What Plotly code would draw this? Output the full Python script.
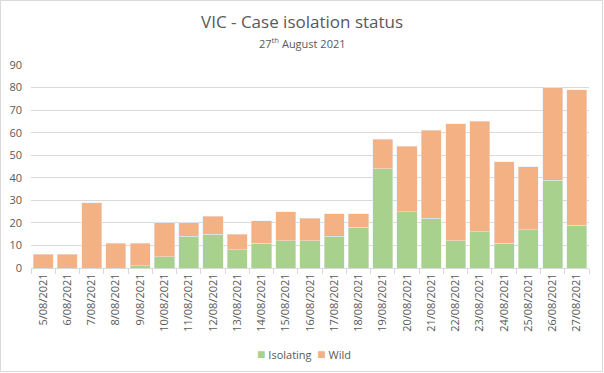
import plotly.graph_objects as go

dates = ["5/08/2021", "6/08/2021", "7/08/2021", "8/08/2021", "9/08/2021", "10/08/2021",
         "11/08/2021", "12/08/2021", "13/08/2021", "14/08/2021", "15/08/2021", "16/08/2021",
         "17/08/2021", "18/08/2021", "19/08/2021", "20/08/2021", "21/08/2021", "22/08/2021",
         "23/08/2021", "24/08/2021", "25/08/2021", "26/08/2021", "27/08/2021"]
isolating = [0, 0, 0, 0, 1, 5, 14, 15, 8, 11, 12, 12, 14, 18, 44, 25, 22, 12, 16, 11, 17, 39, 19]
totals = [6, 6, 29, 11, 11, 20, 20, 23, 15, 21, 25, 22, 24, 24, 57, 54, 61, 64, 65, 47, 45, 80, 79]
wild = [t - i for t, i in zip(totals, isolating)]

W, H = 604, 373
ML, MR, MT, MB = 31, 15, 65, 105
FONT = "Open Sans"
GREY = "#595959"
GREEN = "#a9d18e"
ORANGE = "#f4b183"

fig = go.Figure()
fig.add_trace(go.Bar(x=dates, y=isolating, name="Isolating", marker_color=GREEN))
fig.add_trace(go.Bar(x=dates, y=wild, name="Wild", marker_color=ORANGE))

pw = W - ML - MR
ph = H - MT - MB

def px_y(py):
    return (H - MB - py) / ph

def px_x(px):
    return (px - ML) / pw

legend_text = (f"<span style='color:{GREEN};font-size:14px'>■</span> Isolating  "
               f"<span style='color:{ORANGE};font-size:14px'>■</span> Wild")

fig.update_layout(
    width=W, height=H,
    barmode="stack", bargap=0.17,
    plot_bgcolor="white", paper_bgcolor="white",
    margin=dict(l=ML, r=MR, t=MT, b=MB),
    font=dict(family=FONT, size=11, color=GREY),
    showlegend=False,
    xaxis=dict(type="category", tickangle=-90, ticks="outside", tickson="boundaries",
               ticklen=5, tickcolor="#d9d9d9", showline=True, linecolor="#d9d9d9",
               showgrid=False, tickfont=dict(size=11, color=GREY), automargin=False),
    yaxis=dict(range=[0, 90], dtick=10, showgrid=True, gridcolor="#d9d9d9", gridwidth=1,
               zeroline=False, showline=False, ticks="", tickfont=dict(size=11, color=GREY),
               automargin=False, ticklabelstandoff=8),
    annotations=[
        dict(text="VIC - Case isolation status", xref="paper", yref="paper",
             x=px_x(302), y=px_y(22), yanchor="middle", xanchor="center",
             showarrow=False, font=dict(size=17, color=GREY, family=FONT)),
        dict(text="27<sup>th</sup> August 2021", xref="paper", yref="paper",
             x=px_x(302), y=px_y(43), yanchor="middle", xanchor="center",
             showarrow=False, font=dict(size=11, color=GREY, family=FONT)),
        dict(text=legend_text, xref="paper", yref="paper",
             x=px_x(304), y=px_y(353), yanchor="middle", xanchor="center",
             showarrow=False, font=dict(size=11, color=GREY, family=FONT)),
    ],
    shapes=[dict(type="rect", xref="paper", yref="paper",
                 x0=px_x(0.5), x1=px_x(W - 1.5),
                 y0=px_y(H - 1.5), y1=px_y(0.5),
                 line=dict(color="#d9d9d9", width=1), layer="below")],
)

fig.write_html("out.html",
               config={"displayModeBar": False},
               post_script="document.body.style.margin='0';document.body.style.overflow='hidden';")
